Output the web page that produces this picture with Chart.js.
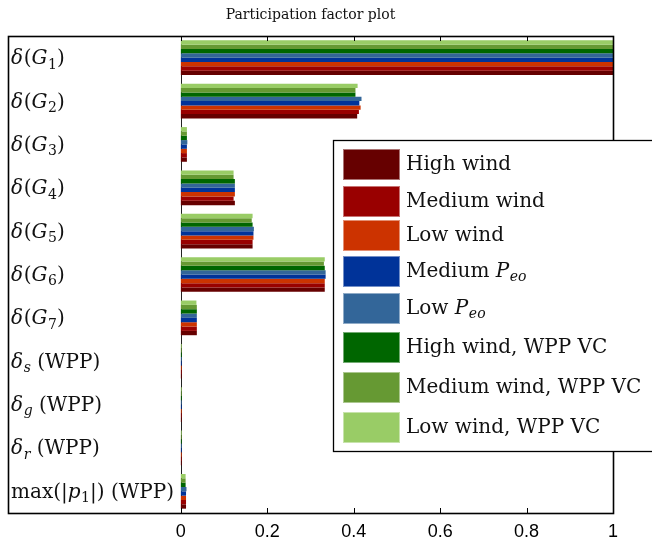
<!DOCTYPE html>
<html>
<head>
<meta charset="utf-8">
<script src="https://cdn.jsdelivr.net/npm/chart.js@4"></script>
<style>
  html, body { margin: 0; padding: 0; background: #fff; }
  #wrap { width: 652px; height: 542px; position: relative; }
</style>
</head>
<body>
<div id="wrap"><canvas id="c"></canvas></div>
<script>
// Row labels use a small markup: $...$ is math (letters italic), _x / _{xy} is a subscript.
const categories = [
  "$δ(G_1)$", "$δ(G_2)$", "$δ(G_3)$", "$δ(G_4)$", "$δ(G_5)$", "$δ(G_6)$", "$δ(G_7)$",
  "$δ_s$ (WPP)", "$δ_g$ (WPP)", "$δ_r$ (WPP)", "max(|$p_1$|) (WPP)"
];

const seriesNames = [
  "High wind", "Medium wind", "Low wind", "Medium $P_{eo}$", "Low $P_{eo}$",
  "High wind, WPP VC", "Medium wind, WPP VC", "Low wind, WPP VC"
];

const seriesColors = [
  "#660000", "#990000", "#cc3300", "#003399", "#336699",
  "#006600", "#669933", "#99cc66"
];

const highWind        = [1, 0.408, 0.014, 0.125, 0.166, 0.333, 0.037, 0.002, 0.002, 0.002, 0.012];
const mediumWind      = [1, 0.412, 0.014, 0.122, 0.166, 0.333, 0.037, 0.002, 0.002, 0.002, 0.012];
const lowWind         = [1, 0.416, 0.014, 0.125, 0.168, 0.333, 0.037, 0.002, 0.002, 0.002, 0.012];
const mediumPeo       = [1, 0.413, 0.014, 0.125, 0.168, 0.335, 0.037, 0.002, 0.002, 0.002, 0.012];
const lowPeo          = [1, 0.418, 0.015, 0.125, 0.169, 0.335, 0.037, 0.002, 0.002, 0.002, 0.013];
const highWindVC      = [1, 0.404, 0.014, 0.125, 0.166, 0.333, 0.037, 0.002, 0.002, 0.002, 0.011];
const mediumWindVC    = [1, 0.404, 0.014, 0.122, 0.164, 0.331, 0.037, 0.002, 0.002, 0.002, 0.011];
const lowWindVC       = [1, 0.409, 0.014, 0.122, 0.166, 0.333, 0.036, 0.002, 0.002, 0.002, 0.011];

const seriesValues = [highWind, mediumWind, lowWind, mediumPeo, lowPeo, highWindVC, mediumWindVC, lowWindVC];

const xTicks = [0, 0.2, 0.4, 0.6, 0.8, 1];

const SERIF = '"DejaVu Serif", "Liberation Serif", serif';
const SANS = '"Liberation Sans", Arial, sans-serif';

// ---- tiny rich-text renderer for math labels ----
function parseRich(str) {
  const runs = [];
  let math = false;
  const push = (ch, sub) => {
    const it = math && /[A-Za-zα-ω]/.test(ch);
    const last = runs[runs.length - 1];
    if (last && last.it === it && last.sub === sub) last.t += ch;
    else runs.push({ t: ch, it, sub });
  };
  for (let i = 0; i < str.length; i++) {
    const c = str[i];
    if (c === '$') { math = !math; continue; }
    if (c === '_') {
      let t;
      if (str[i + 1] === '{') { const j = str.indexOf('}', i); t = str.slice(i + 2, j); i = j; }
      else { t = str[i + 1]; i++; }
      for (const ch of t) push(ch, true);
      continue;
    }
    push(c, false);
  }
  return runs;
}

function drawRich(ctx, str, x, y, size) {
  for (const r of parseRich(str)) {
    const s = r.sub ? size * 0.7 : size;
    ctx.font = (r.it ? 'italic ' : '') + s + 'px ' + SERIF;
    ctx.fillText(r.t, x, r.sub ? y + size * 0.22 : y);
    x += ctx.measureText(r.t).width + (r.it && !r.sub ? size * 0.03 : 0);
  }
  return x;
}

// ---- frame, inner tick marks, zero line and row labels ----
const framePlugin = {
  id: 'frame',
  beforeDatasetsDraw(chart) {
    const { ctx, chartArea: a, scales: { x } } = chart;
    ctx.save();
    const x0 = Math.round(x.getPixelForValue(0)) + 0.5;
    ctx.strokeStyle = '#222';
    ctx.lineWidth = 1;
    ctx.beginPath();
    ctx.moveTo(x0, a.top);
    ctx.lineTo(x0, a.bottom);
    ctx.stroke();
    ctx.restore();
  },
  afterDatasetsDraw(chart) {
    const { ctx, chartArea: a, scales: { x, y } } = chart;
    ctx.save();
    ctx.strokeStyle = '#000';
    ctx.lineWidth = 1;
    ctx.beginPath();
    for (const v of xTicks) {
      const px = Math.round(x.getPixelForValue(v)) + 0.5;
      ctx.moveTo(px, a.bottom); ctx.lineTo(px, a.bottom - 5);
      ctx.moveTo(px, a.top); ctx.lineTo(px, a.top + 5);
    }
    ctx.stroke();
    ctx.lineWidth = 1.6;
    ctx.strokeRect(Math.round(a.left) + 0.5, Math.round(a.top) + 0.5,
                   Math.round(a.right - a.left), Math.round(a.bottom - a.top));
    // row labels along the left edge
    ctx.fillStyle = '#111';
    ctx.textBaseline = 'alphabetic';
    ctx.textAlign = 'left';
    categories.forEach((c, i) => {
      drawRich(ctx, c, a.left + 3, y.getPixelForValue(i) + 6.5, 20);
    });
    ctx.restore();
  }
};

// ---- boxed legend with math-capable labels ----
const legendPlugin = {
  id: 'mathLegend',
  afterDraw(chart) {
    const { ctx } = chart;
    const box = { left: 333, top: 140.5, right: 662, bottom: 451.5 };
    const rowTops = [149, 186, 220, 256, 293, 332, 372, 412];
    ctx.save();
    ctx.fillStyle = '#fff';
    ctx.fillRect(box.left, box.top, box.right - box.left, box.bottom - box.top);
    ctx.strokeStyle = '#000';
    ctx.lineWidth = 1.3;
    ctx.strokeRect(box.left + 0.5, box.top, box.right - box.left, box.bottom - box.top);
    seriesNames.forEach((name, i) => {
      const t = rowTops[i];
      ctx.fillStyle = seriesColors[i];
      ctx.fillRect(343, t, 57, 31);
      ctx.strokeStyle = 'rgba(255,255,255,0.45)';
      ctx.lineWidth = 1;
      ctx.strokeRect(343.5, t + 0.5, 56, 30);
      ctx.fillStyle = '#111';
      ctx.textBaseline = 'alphabetic';
      drawRich(ctx, name, 406, t + 21, 20);
    });
    ctx.restore();
  }
};

// Datasets are stacked top-down in a horizontal bar group, so feed them in reverse
// to put "High wind" at the bottom of each group.
const datasets = seriesNames.map((name, i) => ({
  label: name,
  data: seriesValues[i],
  backgroundColor: seriesColors[i],
  borderWidth: 0,
  barPercentage: 1.0,
  categoryPercentage: 0.8
})).reverse();

new Chart(document.getElementById('c'), {
  type: 'bar',
  data: { labels: categories, datasets },
  options: {
    indexAxis: 'y',
    responsive: true,
    maintainAspectRatio: false,
    animation: false,
    events: [],
    layout: { padding: { left: 7, right: 39, top: 0, bottom: 0 } },
    plugins: {
      legend: { display: false },
      tooltip: { enabled: false },
      title: {
        display: true,
        text: 'Participation factor plot',
        fullSize: false,
        color: '#111',
        font: { family: SERIF, size: 14, weight: 'normal', lineHeight: 1.43 },
        padding: { top: 5, bottom: 11 }
      }
    },
    scales: {
      x: {
        type: 'linear',
        min: -0.4,
        max: 1,
        grid: { display: false, drawTicks: false },
        border: { display: false },
        afterFit(scale) { scale.height = 29; },
        ticks: {
          stepSize: 0.2,
          padding: 8,
          color: '#000',
          font: { family: SANS, size: 18 },
          maxRotation: 0,
          callback(v) {
            const r = Math.round(v * 10) / 10;
            return r < 0 ? '' : String(r);
          }
        }
      },
      y: {
        type: 'category',
        display: false,
        offset: true
      }
    }
  },
  plugins: [framePlugin, legendPlugin]
});
</script>
</body>
</html>
